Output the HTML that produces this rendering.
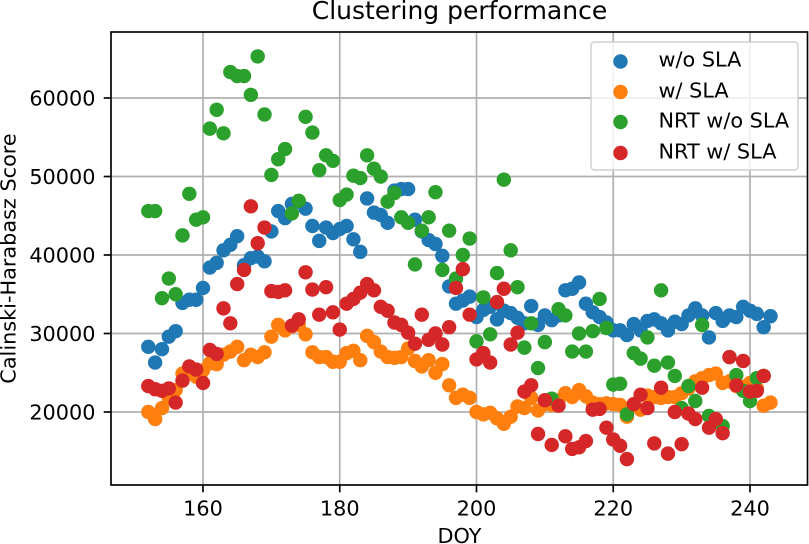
<!DOCTYPE html>
<html>
<head>
<meta charset="utf-8">
<title>Clustering performance</title>
<style>
html,body{margin:0;padding:0;background:#fff;}
svg{display:block;}
text{font-family:"DejaVu Sans","Liberation Sans",sans-serif;fill:#000;}
</style>
</head>
<body>
<svg id="chart" xmlns="http://www.w3.org/2000/svg" width="809" height="544" viewBox="0 0 809 544">
  <rect x="0" y="0" width="809" height="544" fill="#ffffff"/>
  <text x="459.5" y="19" font-size="25" text-anchor="middle">Clustering performance</text>
  <g id="grid"></g>
  <g id="marks"></g>
  <rect x="111" y="32" width="696.5" height="453" fill="none" stroke="#000" stroke-width="1.67"/>
  <g id="ticks"></g>
  <text x="459.5" y="543" font-size="20.8" text-anchor="middle">DOY</text>
  <text x="0" y="0" font-size="20.8" text-anchor="middle" transform="translate(15.5 258.5) rotate(-90)">Calinski-Harabasz Score</text>
  <g>
    <rect x="591" y="42" width="207" height="128" rx="3.5" ry="3.5" fill="#ffffff" fill-opacity="0.8" stroke="#cccccc" stroke-opacity="0.8" stroke-width="1.67"/>
    <g>
      <circle cx="620.5" cy="61.5" r="7.2" fill="#1f77b4"/>
      <text x="658.5" y="66.7" font-size="20.8">w/o SLA</text>
    </g>
    <g>
      <circle cx="620.5" cy="92" r="7.2" fill="#ff7f0e"/>
      <text x="658.5" y="97.5" font-size="20.8">w/ SLA</text>
    </g>
    <g>
      <circle cx="620.5" cy="122" r="7.2" fill="#2ca02c"/>
      <text x="658.5" y="127.7" font-size="20.8">NRT w/o SLA</text>
    </g>
    <g>
      <circle cx="620.5" cy="153" r="7.2" fill="#d62728"/>
      <text x="658.5" y="158.3" font-size="20.8">NRT w/ SLA</text>
    </g>
  </g>
</svg>
<script>
const doy = [152,153,154,155,156,157,158,159,
160,161,162,163,164,165,166,167,168,169,
170,171,172,173,174,175,176,177,178,179,
180,181,182,183,184,185,186,187,188,189,
190,191,192,193,194,195,196,197,198,199,
200,201,202,203,204,205,206,207,208,209,
210,211,212,213,214,215,216,217,218,219,
220,221,222,223,224,225,226,227,228,229,
230,231,232,233,234,235,236,237,238,239,
240,241,242,243];

const woSla = [28300,26300,28000,29600,30300,33900,34300,34300,
35800,38400,39000,40600,41300,42400,38700,39600,39800,39200,
43000,45600,44700,46500,46800,45900,43700,41800,43500,42800,
43300,43700,42000,40400,47200,45400,45100,44100,48200,48400,
48400,44500,43000,41900,41400,39900,36000,33800,34200,34700,
32100,33000,33400,31800,32900,32600,32000,31300,33500,31100,
32300,31700,32300,35500,35700,36500,33800,32700,32100,31400,
30400,30400,29800,31200,30400,31600,31800,31300,30400,31500,
31200,32300,33200,32300,29500,32600,31600,32300,32100,33400,
32900,32500,30800,32200];

const wSla = [20000,19100,20500,21800,22800,24900,25500,24500,
25300,26200,26100,27300,27700,28300,26600,27300,27000,27600,
29600,31100,30400,30900,31100,29900,27600,27000,27000,26400,
26400,27500,27800,26600,29700,28900,27700,27000,26900,27000,
28100,26500,25800,26600,25000,26100,23400,21800,22200,21800,
20000,19700,19900,19200,18500,19400,20700,20500,21800,20200,
21000,20900,21500,22400,21900,22800,22000,21200,21000,21100,
21000,20900,19400,21000,20300,22100,21900,21800,21900,21900,
22400,23000,23900,24300,24700,24900,23700,23900,23300,23200,
23700,23000,20800,21200];

const nrtWoSla = [45600,45600,34500,37000,35000,42500,47800,44500,
44800,56100,58500,55500,63300,62800,62800,60400,65300,57900,
50200,52200,53500,45300,46900,57600,55600,50800,52700,52000,
47000,47700,50100,49800,52700,51000,50000,46800,47900,44800,
44100,38800,43100,44800,48000,38100,43100,37000,40000,42100,
29000,34600,29900,37700,49600,40600,35900,28200,31300,25600,
28900,21700,33100,32300,27700,30000,27700,30300,34400,30700,
23500,23600,19700,27500,26800,29500,25900,35500,26300,24600,
20500,23300,21400,31100,19500,18800,18200,27000,24700,22700,
21400,24300,24600,null];

const nrtWSla = [23300,22900,22700,23000,21200,24000,25800,25400,
23700,27900,27400,33200,31300,36300,38100,46200,41500,43500,
35400,35300,35500,31000,31800,37800,35600,32400,35900,32700,
30500,33800,34400,35200,36300,35500,33400,32900,31400,31100,
30100,28700,32400,29200,30000,28600,30800,35800,38200,32400,
26700,27500,26300,34000,35700,28600,30100,22600,23400,17200,
21500,15800,20800,16900,15300,15500,16300,20300,20400,18000,
16500,15700,14000,21000,22200,20500,16000,23100,14700,20000,
15900,19800,19100,23100,18000,19100,17300,27000,23400,26500,
22600,22700,24600,null];

const xTickValues = [160,180,200,220,240];
const yTickValues = [20000,30000,40000,50000,60000];

const NS = 'http://www.w3.org/2000/svg';
const plot = {left:111, right:807.5, top:32, bottom:485};

function xScale(d){ return 203 + (d - 160) * (750 - 203) / (240 - 160); }
function yScale(v){ return 412 - (v - 20000) * (412 - 98) / (60000 - 20000); }

function svgEl(tag, attrs){
  const el = document.createElementNS(NS, tag);
  for (const k in attrs) el.setAttribute(k, attrs[k]);
  return el;
}

const gridG = document.getElementById('grid');
const ticksG = document.getElementById('ticks');
const marksG = document.getElementById('marks');

xTickValues.forEach(function(t){
  const x = xScale(t);
  const g = svgEl('line', {x1:x, x2:x, y1:plot.top, y2:plot.bottom, stroke:'#b0b0b0', 'stroke-width':1.67});
  
  
  gridG.appendChild(g);
  const m = svgEl('line', {x1:x, x2:x, y1:plot.bottom, y2:plot.bottom + 7.3, stroke:'#000', 'stroke-width':1.67});
  
  
  ticksG.appendChild(m);
  const l = svgEl('text', {x:x, y:515.7, 'font-size':20.8, 'text-anchor':'middle'});
  
  
  l.textContent = String(t);
  ticksG.appendChild(l);
});

yTickValues.forEach(function(t){
  const y = yScale(t);
  const g = svgEl('line', {x1:plot.left, x2:plot.right, y1:y, y2:y, stroke:'#b0b0b0', 'stroke-width':1.67});
  
  
  gridG.appendChild(g);
  const m = svgEl('line', {x1:plot.left - 7.3, x2:plot.left, y1:y, y2:y, stroke:'#000', 'stroke-width':1.67});
  
  
  ticksG.appendChild(m);
  const l = svgEl('text', {x:95.5, y:y + 7.5, 'font-size':20.8, 'text-anchor':'end'});
  
  
  l.textContent = String(t);
  ticksG.appendChild(l);
});

function drawSeries(values, color, name){
  const group = svgEl('g', {fill:color});
  
  
  values.forEach(function(v, i){
    if (v === null) return;
    const c = svgEl('circle', {cx:xScale(doy[i]), cy:yScale(v), r:7.2});
    
    
    group.appendChild(c);
  });
  marksG.appendChild(group);
}

drawSeries(woSla, '#1f77b4', 'series-wo-sla');
drawSeries(wSla, '#ff7f0e', 'series-w-sla');
drawSeries(nrtWoSla, '#2ca02c', 'series-nrt-wo-sla');
drawSeries(nrtWSla, '#d62728', 'series-nrt-w-sla');
</script>
</body>
</html>
